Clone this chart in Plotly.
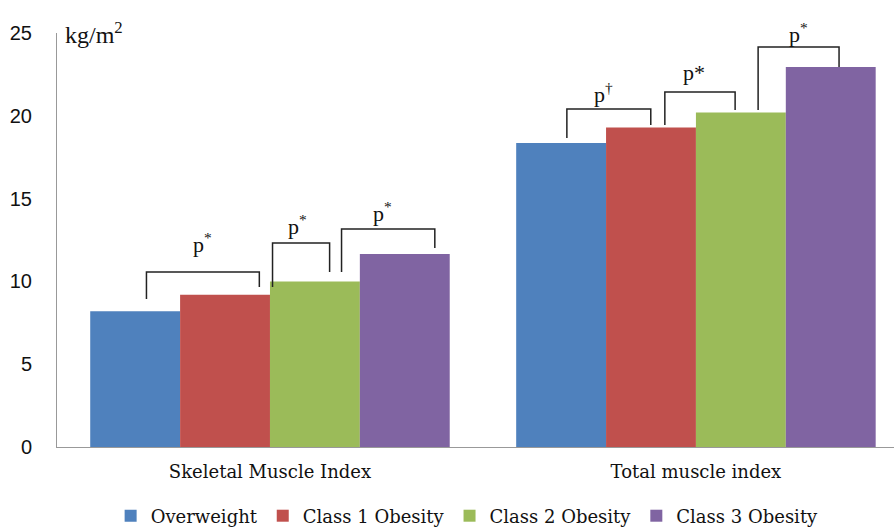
import plotly.graph_objects as go

categories = ["Skeletal Muscle Index", "Total muscle index"]
groups = ["Overweight", "Class 1 Obesity", "Class 2 Obesity", "Class 3 Obesity"]
colors = ["#4F81BD", "#C0504D", "#9BBB59", "#8064A2"]
overweight = [8.2, 18.35]
class1 = [9.2, 19.3]
class2 = [10.0, 20.2]
class3 = [11.65, 22.95]
values = [overweight, class1, class2, class3]

# significance brackets: x0, x1, top, left-leg bottom, right-leg bottom, label x, label y, label
brackets = [
    (-0.290, -0.025, 10.57, 8.94, 9.66, -0.159, 12.3, "p<sup>*</sup>"),
    (0.006, 0.140, 12.32, 9.66, 10.57, 0.065, 13.4, "p<sup>*</sup>"),
    (0.168, 0.387, 13.16, 10.57, 12.02, 0.264, 14.2, "p<sup>*</sup>"),
    (0.697, 0.894, 20.41, 18.66, 19.44, 0.784, 21.4, "p<sup>†</sup>"),
    (0.927, 1.092, 21.44, 19.44, 20.35, 0.995, 22.6, "p*"),
    (1.146, 1.336, 24.15, 20.35, 22.95, 1.240, 25.0, "p<sup>*</sup>"),
]

serif = "Liberation Serif"
slab = "DejaVu Serif"
sans = "Liberation Sans"

fig = go.Figure()
for name, col, vals in zip(groups, colors, values):
    fig.add_trace(go.Bar(x=[0, 1], y=vals, name=name, marker=dict(color=col, line=dict(width=0))))

for x0, x1, top, yl, yr, lx, ly, lab in brackets:
    fig.add_shape(type="path", xref="x", yref="y",
                  path=f"M {x0},{yl} L {x0},{top} L {x1},{top} L {x1},{yr}",
                  line=dict(color="#222222", width=1.5))
    fig.add_annotation(x=lx, y=ly, xref="x", yref="y", text=lab, showarrow=False,
                       font=dict(family=serif, size=22, color="#111111"))

fig.add_annotation(x=0, y=25, xref="paper", yref="y", xanchor="left", xshift=6,
                   text="kg/m<sup>2</sup>", showarrow=False,
                   font=dict(family=serif, size=24, color="#111111"))

fig.update_layout(
    width=894, height=529,
    margin=dict(l=57, r=0, t=33, b=82, autoexpand=False),
    paper_bgcolor="white", plot_bgcolor="white",
    barmode="group", bargap=0.156, bargroupgap=0,
    showlegend=True,
    legend=dict(orientation="h", x=0.49, xanchor="center", y=-0.122, yanchor="top",
                font=dict(family=slab, size=18, color="#111111"), itemwidth=30,
                tracegroupgap=0),
    xaxis=dict(range=[-0.5, 1.465], tickvals=[0, 1], ticktext=categories, automargin=False,
               showline=True, linecolor="#999999", linewidth=1, showgrid=False,
               zeroline=False, ticks="", ticklabelstandoff=8,
               tickfont=dict(family=slab, size=18, color="#111111")),
    yaxis=dict(range=[0, 25], tickvals=[0, 5, 10, 15, 20, 25], showline=True, automargin=False,
               linecolor="#999999", linewidth=1, showgrid=False, zeroline=False, ticks="",
               ticklabelstandoff=20,
               tickfont=dict(family=sans, size=20, color="#111111")),
)

fig.write_html("out.html", config={"displayModeBar": False},
               post_script="document.body.style.margin='0';document.body.style.overflow='hidden';")
